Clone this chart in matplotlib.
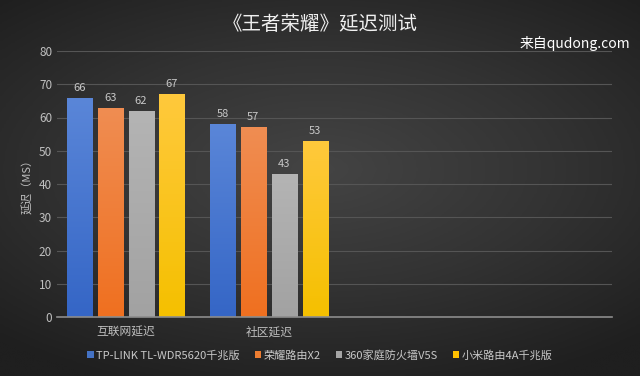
import matplotlib
matplotlib.use('Agg')
import matplotlib.pyplot as plt
from matplotlib.colors import LinearSegmentedColormap, to_rgb
import numpy as np

plt.rcParams['font.family'] = ['Noto Sans CJK SC', 'DejaVu Sans']

categories = ['互联网延迟', '社区延迟']
series = ['TP-LINK TL-WDR5620千兆版', '荣耀路由X2', '360家庭防火墙V5S', '小米路由4A千兆版']
values = [
    [66, 58],
    [63, 57],
    [62, 43],
    [67, 53],
]
colors = ['#4472c4', '#ed7d31', '#a5a5a5', '#ffc000']
tops = ['#5a86d8', '#f08d52', '#b4b4b4', '#ffc93c']
bottoms = ['#3566c6', '#ef7020', '#a2a2a2', '#f5c000']

fig = plt.figure(figsize=(6.4, 3.76), dpi=100)

# dark radial background
bg = fig.add_axes([0, 0, 1, 1], zorder=-1)
yy, xx = np.mgrid[-1:1:200j, -1:1:300j]
r = np.sqrt((xx * 0.85) ** 2 + ((yy + 0.1) * 1.0) ** 2)
bg_cmap = LinearSegmentedColormap.from_list('bg', ['#444444', '#333333', '#1f1f1f'])
bg.imshow(r, cmap=bg_cmap, vmin=0, vmax=1.25, aspect='auto', extent=[0, 1, 0, 1])
bg.axis('off')

ax = fig.add_axes([57 / 640, (376 - 317) / 376, (612 - 57) / 640, (317 - 51) / 376])
ax.set_facecolor('none')

x = np.arange(len(categories))
width = 0.175
step = 0.216
grad = np.linspace(1, 0, 100).reshape(-1, 1)
for i, (name, vals, c) in enumerate(zip(series, values, colors)):
    pos = x + (i - 1.5) * step
    bars = ax.bar(pos, vals, width, color=c, label=name, zorder=3)
    cm = LinearSegmentedColormap.from_list('b%d' % i, [bottoms[i], tops[i]])
    for b, v in zip(bars, vals):
        im = ax.imshow(grad, cmap=cm, aspect='auto', zorder=3.5,
                       extent=[b.get_x(), b.get_x() + b.get_width(), 0, v])
        im.set_clip_path(b)
        ax.text(b.get_x() + b.get_width() / 2, v + 1.5, str(v), ha='center', va='bottom',
                fontsize=8, color='#c8c8c8')

ax.set_ylim(0, 80)
ax.set_yticks(range(0, 81, 10))
ax.set_xlim(-0.48, 3.4)
ax.set_xticks(x)
ax.set_xticklabels(categories)
ax.grid(axis='y', color='#555555', linewidth=0.8, zorder=0)
for s in ['top', 'right', 'left']:
    ax.spines[s].set_visible(False)
ax.spines['bottom'].set_color('#8c8c8c')
ax.spines['bottom'].set_linewidth(1.2)
ax.spines['bottom'].set_zorder(4)
ax.tick_params(axis='both', length=0, colors='#bfbfbf', labelsize=8.5)
ax.tick_params(axis='x', pad=6)
ax.set_ylabel('延迟（MS）', color='#bfbfbf', fontsize=8)

fig.text(0.5, 0.935, '《王者荣耀》延迟测试', ha='center', va='center', fontsize=14,
         color='#f0f0f0', fontweight='medium')
fig.text(0.985, 0.885, '来自qudong.com', ha='right', va='center', fontsize=10, color='white')

leg = fig.legend(loc='center', bbox_to_anchor=(0.5, 0.055), ncol=4, frameon=False,
                 fontsize=8, handlelength=0.6, handleheight=0.6, handletextpad=0.25,
                 columnspacing=1.3, labelcolor='#c8c8c8')

fig.savefig('out.png', dpi=100)
